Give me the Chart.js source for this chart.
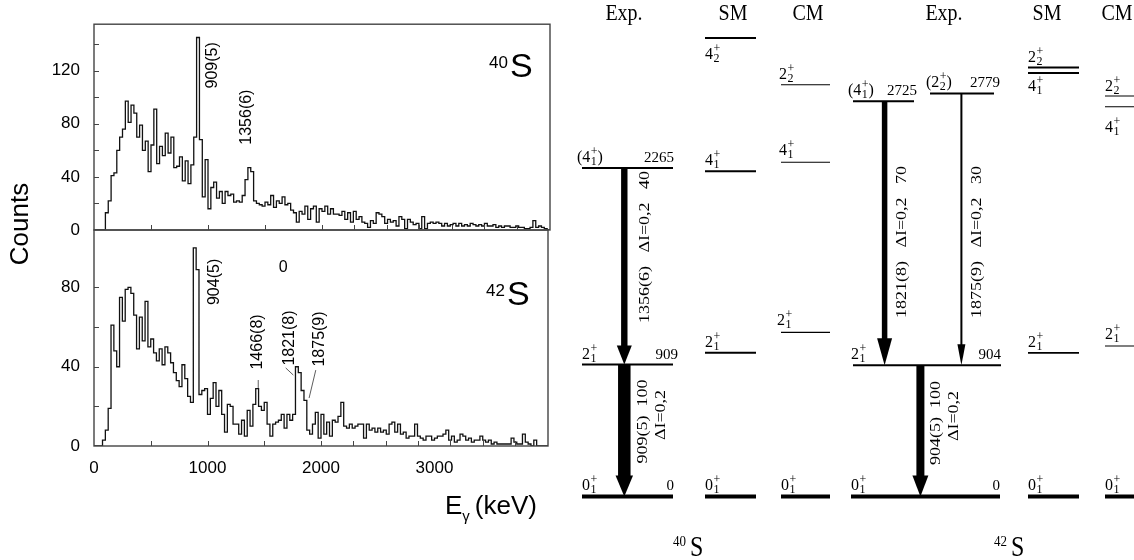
<!DOCTYPE html>
<html>
<head>
<meta charset="utf-8">
<script src="https://cdn.jsdelivr.net/npm/chart.js@4.4.1/dist/chart.umd.min.js"></script>
<style>
  html, body { margin: 0; padding: 0; background: #fff; }
  #wrap { position: relative; width: 1134px; height: 560px; overflow: hidden; background: #fff; }
  #wrap canvas { position: absolute; top: 0; }
</style>
</head>
<body>
<div id="wrap">
  <canvas id="specTop" width="560" height="560" style="left:0"></canvas>
  <canvas id="specBot" width="560" height="560" style="left:0"></canvas>
  <canvas id="levels" width="574" height="560" style="left:560px"></canvas>
</div>
<script>
// ---- spectra: counts per 25 keV bin, starting at 0 keV ----
const BIN_KEV = 25;
const S40_COUNTS = [
  0, 0, 0, 0, 13, 22, 41, 43, 60, 70, 76, 97,
  81, 94, 88, 70, 79, 60, 67, 44, 64, 91, 50, 63,
  56, 73, 58, 70, 47, 48, 55, 37, 52, 35, 49, 70,
  145, 68, 25, 53, 16, 32, 36, 24, 29, 20, 29, 26,
  27, 21, 22, 21, 26, 38, 47, 44,
  22, 20, 19, 18, 21, 19, 26, 17,
  22, 20, 25, 19, 20, 15, 13, 6,
  14, 12, 18, 8, 16, 18, 6, 16,
  14, 18, 12, 16, 12, 12, 11, 14,
  8, 13, 6, 14, 8, 10, 6, 5,
  2, 7, 5, 13, 12, 10, 5, 8,
  6, 7, 3, 10, 8, 1, 8, 6,
  4, 5, 1, 10, 1, 5, 6, 5,
  6, 5, 3, 5, 3, 4, 5, 3,
  5, 3, 4, 3, 5, 4, 3, 4,
  3, 5, 3, 3, 4, 2, 3, 2,
  3, 3, 2, 2, 3, 2, 2, 1,
  1, 2, 7, 2, 3, 2, 1, 0
];
const S42_COUNTS = [
  0, 0, 0, 3, 8, 19, 61, 48, 40, 75, 63, 79,
  80, 77, 66, 49, 65, 53, 73, 50, 54, 47, 43, 49,
  41, 50, 47, 42, 37, 33, 30, 41, 34, 25, 22, 100,
  89, 26, 28, 29, 16, 24, 32, 20, 28, 16, 7, 21,
  20, 11, 11, 6, 13, 5, 18, 10,
  21, 29, 20, 18, 22, 11, 5, 11,
  12, 13, 16, 9, 16, 13, 16, 40,
  37, 28, 23, 8, 6, 11, 17, 4,
  16, 6, 12, 5, 13, 12, 15, 22,
  10, 9, 11, 9, 10, 11, 11, 4,
  11, 8, 9, 7, 9, 7, 8, 6,
  11, 12, 7, 11, 6, 7, 4, 5,
  5, 11, 5, 4, 3, 5, 5, 3,
  4, 5, 5, 6, 8, 3, 5, 2,
  3, 6, 5, 3, 4, 2, 3, 3,
  5, 3, 2, 3, 1, 2, 1, 1,
  1, 1, 1, 4, 2, 1, 1, 6,
  2, 1, 0, 3, 0, 0, 0, 0
];
const X_LABEL_TICKS = [0, 1000, 2000, 3000];
const X_MINOR_TICKS = [500, 1000, 1500, 2000, 2285, 2570, 2855, 3140, 3425, 3710];
const S40_PEAKS = ['909(5)', '1356(6)'];
const S42_PEAKS = ['904(5)', '1466(8)', '1821(8)', '1875(9)'];

// ---- level schemes (keV) ----
const S40_EXP_E = [0, 909, 2265];
const S40_EXP_SPIN = ['0_1', '2_1', '(4_1)'];
const S40_SM_E = [0, 990, 2243, 3162];
const S40_SM_SPIN = ['0_1', '2_1', '4_1', '4_2'];
const S40_CM_E = [0, 1131, 2305, 2839];
const S40_CM_SPIN = ['0_1', '2_1', '4_1', '2_2'];
const S40_GAMMA_FROM = [2265, 909];
const S40_GAMMA_TO = [909, 0];
const S40_GAMMA_TEXT = ['1356(6)   \u0394I=0,2   40', '909(5)  100'];

const S42_EXP_E = [0, 904, 2725, 2779];
const S42_EXP_SPIN = ['0_1', '2_1', '(4_1)', '(2_2)'];
const S42_SM_E = [0, 990, 2920, 2958];
const S42_SM_SPIN = ['0_1', '2_1', '4_1', '2_2'];
const S42_CM_E = [0, 1037, 2687, 2761];
const S42_CM_SPIN = ['0_1', '2_1', '4_1', '2_2'];
const S42_GAMMA_FROM = [2725, 2779, 904];
const S42_GAMMA_TO = [904, 904, 0];
const S42_GAMMA_TEXT = ['1821(8)   \u0394I=0,2   70', '1875(9)   \u0394I=0,2   30', '904(5)  100'];

Chart.defaults.font.family = '"Liberation Sans", Arial, sans-serif';
Chart.defaults.color = '#000';

function stepPoints(counts) {
  const pts = counts.map((c, i) => ({ x: i * BIN_KEV, y: c }));
  pts.push({ x: counts.length * BIN_KEV, y: counts[counts.length - 1] });
  return pts;
}

function vtext(ctx, s, x, y, font, sx) {
  ctx.save();
  ctx.translate(x, y);
  ctx.rotate(-Math.PI / 2);
  ctx.scale(sx || 1, 1);
  ctx.font = font;
  ctx.textAlign = 'center';
  ctx.textBaseline = 'middle';
  ctx.fillText(s, 0, 0);
  ctx.restore();
}

// frame, inward ticks and annotations of a spectrum panel
const specDecor = {
  id: 'specDecor',
  afterDraw(chart, args, o) {
    const ctx = chart.ctx, a = chart.chartArea;
    const xs = chart.scales.x, ys = chart.scales.y;
    ctx.save();
    ctx.strokeStyle = '#444';
    ctx.lineWidth = 1.4;
    ctx.strokeRect(a.left, a.top, a.right - a.left, a.bottom - a.top);
    ctx.lineWidth = 1;
    ctx.beginPath();
    ys.ticks.forEach(t => {
      if (t.value % 20 !== 0 || t.value <= 0) return;
      const py = Math.round(ys.getPixelForValue(t.value)) + 0.5;
      ctx.moveTo(a.left, py); ctx.lineTo(a.left + 5, py);
    });
    X_MINOR_TICKS.forEach(v => {
      const px = Math.round(xs.getPixelForValue(v)) + 0.5;
      ctx.moveTo(px, a.bottom); ctx.lineTo(px, a.bottom - 5);
    });
    ctx.stroke();

    ctx.fillStyle = '#000';
    (o.peaks || []).forEach(p => {
      vtext(ctx, p.t, xs.getPixelForValue(p.e), ys.getPixelForValue(p.c), '16px "Liberation Sans"');
    });
    ctx.strokeStyle = '#333';
    ctx.lineWidth = 0.8;
    (o.leaders || []).forEach(l => {
      ctx.beginPath();
      ctx.moveTo(xs.getPixelForValue(l[0]), ys.getPixelForValue(l[1]));
      ctx.lineTo(xs.getPixelForValue(l[2]), ys.getPixelForValue(l[3]));
      ctx.stroke();
    });
    (o.plain || []).forEach(p => {
      ctx.font = '16px "Liberation Sans"';
      ctx.textAlign = 'center';
      ctx.textBaseline = 'middle';
      ctx.fillText(p.t, xs.getPixelForValue(p.e), ys.getPixelForValue(p.c));
    });
    // nucleus label
    const n = o.nucleus;
    ctx.textBaseline = 'alphabetic';
    ctx.font = '17px "Liberation Sans"';
    ctx.textAlign = 'right';
    ctx.fillText(n.mass, n.x, n.y - 9);
    ctx.font = '34px "Liberation Sans"';
    ctx.textAlign = 'left';
    ctx.fillText(n.sym, n.x + 2, n.y);

    if (o.axisTitles) {
      vtext(ctx, 'Counts', 21, 224, '26px "Liberation Sans"');
      ctx.textAlign = 'left';
      ctx.textBaseline = 'alphabetic';
      let x = 445;
      ctx.font = '26px "Liberation Sans"';
      ctx.fillText('E', x, 514);
      x += ctx.measureText('E').width;
      ctx.font = '15px "Liberation Sans"';
      ctx.fillText('\u03b3', x, 521);
      x += ctx.measureText('\u03b3').width + 5;
      ctx.font = '26px "Liberation Sans"';
      ctx.fillText('(keV)', x, 514);
    }
    ctx.restore();
  }
};

function makeSpectrum(id, counts, yMax, padTop, xAxisH, showX, decor) {
  return new Chart(document.getElementById(id), {
    type: 'line',
    data: {
      datasets: [{
        data: stepPoints(counts),
        stepped: true,
        borderColor: '#111',
        borderWidth: 1.3,
        pointRadius: 0,
        fill: false
      }]
    },
    options: {
      responsive: false,
      animation: false,
      layout: { padding: { top: padTop, right: 10, left: 0, bottom: 0 } },
      plugins: { legend: { display: false }, tooltip: { enabled: false }, specDecor: decor },
      scales: {
        x: {
          type: 'linear', min: 0, max: 4000,
          grid: { display: false, drawTicks: false },
          border: { display: false },
          ticks: {
            display: showX, stepSize: 1000, autoSkip: false, maxRotation: 0, padding: 12,
            font: { size: 17 },
            callback: v => X_LABEL_TICKS.includes(v) ? String(v) : ''
          },
          afterFit: s => { s.height = xAxisH; }
        },
        y: {
          min: 0, max: yMax,
          grid: { display: false, drawTicks: false },
          border: { display: false },
          ticks: {
            stepSize: 20, autoSkip: false, padding: 14,
            font: { size: 17 },
            callback: v => v % 40 === 0 ? String(v) : ''
          },
          afterFit: s => { s.width = 94; }
        }
      }
    },
    plugins: [specDecor]
  });
}

makeSpectrum('specTop', S40_COUNTS, 155, 12, 330, false, {
  peaks: [{ t: S40_PEAKS[0], e: 1037, c: 124 }, { t: S40_PEAKS[1], e: 1337, c: 85 }],
  nucleus: { mass: '40', sym: 'S', x: 508, y: 77 }
});

makeSpectrum('specBot', S42_COUNTS, 109, 230, 114, true, {
  peaks: [
    { t: S42_PEAKS[0], e: 1059, c: 82.8 },
    { t: S42_PEAKS[1], e: 1445, c: 52.5 },
    { t: S42_PEAKS[2], e: 1725, c: 54.5 },
    { t: S42_PEAKS[3], e: 1989, c: 54 }
  ],
  leaders: [[1447, 33.3, 1447, 29.3], [1689, 39.4, 1756, 35.8], [1954, 38.3, 1895, 24.2]],
  plain: [{ t: '0', e: 1667, c: 89.8 }],
  nucleus: { mass: '42', sym: 'S', x: 505, y: 305 },
  axisTitles: true
});

// ---- level scheme layout (canvas px, x from 560) ----
const SERIF = '"Liberation Serif", "Times New Roman", serif';
const SCHEMES = [
  {
    exp: S40_EXP_E, sm: S40_SM_E, cm: S40_CM_E,
    expSpin: S40_EXP_SPIN, smSpin: S40_SM_SPIN, cmSpin: S40_CM_SPIN,
    expSpan: [[22, 113], [22, 113], [22, 113]], smSpan: [145, 196], cmSpan: [221, 270],
    expW: [4, 2, 2], smW: [4, 2, 2, 2], cmW: [4, 1.1, 1.1, 1.1],
    expSpinX: [22, 22, 17], smDy: [-6, -6, -6, 21], cmSpinX: [221, 217, 219, 219], cmDy: [-6, -7, -7, -6],
    eLabelX: [114, 118, 114],
    gFrom: S40_GAMMA_FROM, gTo: S40_GAMMA_TO, gText: S40_GAMMA_TEXT,
    arrows: [{ x: 64.3, shaft: 6.4, hw: 15, hl: 19 }, { x: 64.3, shaft: 12.5, hw: 17.5, hl: 21 }],
    gTextPos: [[85, 247], [83, 421.5]],
    dIPos: [[101.4, 415]],
    titles: [['Exp.', 64], ['SM', 173], ['CM', 248]],
    nucl: { mass: '40', sym: 'S', x: 127 }
  },
  {
    exp: S42_EXP_E, sm: S42_SM_E, cm: S42_CM_E,
    expSpin: S42_EXP_SPIN, smSpin: S42_SM_SPIN, cmSpin: S42_CM_SPIN,
    expSpan: [[291, 440], [293, 441], [293, 354], [370, 434]], smSpan: [468, 519], cmSpan: [545, 580],
    expW: [4, 2, 2, 2], smW: [4, 1.6, 1.8, 1.8], cmW: [4, 1.1, 1.1, 1.1],
    expSpinX: [291, 291, 288, 366], smDy: [-6, -6, 18, -5], cmSpinX: [545, 545, 545, 545], cmDy: [-6, -7, 25, -5],
    eLabelX: [440, 441, 357, 440],
    gFrom: S42_GAMMA_FROM, gTo: S42_GAMMA_TO, gText: S42_GAMMA_TEXT,
    arrows: [{ x: 324.6, shaft: 5.5, hw: 15, hl: 27 }, { x: 401.4, shaft: 2, hw: 8, hl: 21 }, { x: 360.4, shaft: 8, hw: 16, hl: 21 }],
    gTextPos: [[342.5, 242], [417.5, 242], [376.5, 423]],
    dIPos: [[394.5, 416]],
    titles: [['Exp.', 384], ['SM', 487], ['CM', 557]],
    nucl: { mass: '42', sym: 'S', x: 448 }
  }
];

function levelSet(E, x0, x1, w) {
  return {
    data: [{ x: x0, y: E }, { x: x1, y: E }],
    showLine: true, borderColor: '#000', borderWidth: w,
    pointRadius: 0, borderCapStyle: 'butt'
  };
}

const levelSets = [];
SCHEMES.forEach(s => {
  s.exp.forEach((E, i) => levelSets.push(levelSet(E, s.expSpan[i][0], s.expSpan[i][1], s.expW[i])));
  s.sm.forEach((E, i) => levelSets.push(levelSet(E, s.smSpan[0], s.smSpan[1], s.smW[i])));
  s.cm.forEach((E, i) => levelSets.push(levelSet(E, s.cmSpan[0], s.cmSpan[1], s.cmW[i])));
});

function drawSpin(ctx, spec, x, base) {
  const paren = spec[0] === '(';
  const core = paren ? spec.slice(1, -1) : spec;
  const parts = core.split('_');
  ctx.textAlign = 'left';
  ctx.textBaseline = 'alphabetic';
  let cx = x;
  ctx.font = '16px ' + SERIF;
  if (paren) { ctx.fillText('(', cx, base); cx += ctx.measureText('(').width; }
  ctx.fillText(parts[0], cx, base);
  cx += ctx.measureText(parts[0]).width + 0.5;
  ctx.font = '12px ' + SERIF;
  ctx.fillText('+', cx, base - 7);
  ctx.fillText(parts[1], cx, base + 3);
  cx += Math.max(ctx.measureText('+').width, ctx.measureText(parts[1]).width);
  if (paren) { ctx.font = '16px ' + SERIF; ctx.fillText(')', cx, base); }
}

const levelDecor = {
  id: 'levelDecor',
  afterDatasetsDraw(chart) {
    const ctx = chart.ctx;
    const ys = chart.scales.y, xs = chart.scales.x;
    ctx.save();
    ctx.fillStyle = '#000';
    SCHEMES.forEach(s => {
      // gamma arrows
      s.gFrom.forEach((f, i) => {
        const ar = s.arrows[i];
        const x = xs.getPixelForValue(ar.x);
        const y0 = ys.getPixelForValue(f), y1 = ys.getPixelForValue(s.gTo[i]);
        ctx.fillRect(x - ar.shaft / 2, y0, ar.shaft, y1 - ar.hl - y0 + 1);
        ctx.beginPath();
        ctx.moveTo(x - ar.hw / 2, y1 - ar.hl);
        ctx.lineTo(x + ar.hw / 2, y1 - ar.hl);
        ctx.lineTo(x, y1);
        ctx.closePath();
        ctx.fill();
        vtext(ctx, s.gText[i], s.gTextPos[i][0], s.gTextPos[i][1], '15px ' + SERIF, 1.2);
      });
      s.dIPos.forEach(p => vtext(ctx, '\u0394I=0,2', p[0], p[1], '15px ' + SERIF, 1.2));

      // spins and energies
      s.exp.forEach((E, i) => {
        const y = ys.getPixelForValue(E);
        drawSpin(ctx, s.expSpin[i], s.expSpinX[i], y - 6);
        ctx.font = '15px ' + SERIF;
        ctx.textAlign = 'right';
        ctx.fillText(String(E), s.eLabelX[i], y - 6);
      });
      s.sm.forEach((E, i) => drawSpin(ctx, s.smSpin[i], s.smSpan[0], ys.getPixelForValue(E) + s.smDy[i]));
      s.cm.forEach((E, i) => drawSpin(ctx, s.cmSpin[i], s.cmSpinX[i], ys.getPixelForValue(E) + s.cmDy[i]));

      // column titles and nucleus
      s.titles.forEach(t => {
        ctx.save();
        ctx.translate(t[1], 14);
        ctx.scale(1, 1.2);
        ctx.font = '20px ' + SERIF;
        ctx.textAlign = 'center';
        ctx.textBaseline = 'middle';
        ctx.fillText(t[0], 0, 0);
        ctx.restore();
      });
      ctx.save();
      ctx.translate(s.nucl.x, 556);
      ctx.scale(1, 1.2);
      ctx.textBaseline = 'alphabetic';
      ctx.font = '13px ' + SERIF;
      ctx.textAlign = 'right';
      ctx.fillText(s.nucl.mass, -1, -8);
      ctx.font = '24px ' + SERIF;
      ctx.textAlign = 'left';
      ctx.fillText(s.nucl.sym, 3, 0);
      ctx.restore();
    });
    ctx.restore();
  }
};

new Chart(document.getElementById('levels'), {
  type: 'scatter',
  data: { datasets: levelSets },
  options: {
    responsive: false,
    animation: false,
    layout: { padding: 0 },
    plugins: { legend: { display: false }, tooltip: { enabled: false } },
    scales: {
      x: { type: 'linear', min: 0, max: 574, display: false },
      y: { type: 'linear', min: -438.6, max: 3423.5, display: false }
    }
  },
  plugins: [levelDecor]
});
</script>
</body>
</html>
